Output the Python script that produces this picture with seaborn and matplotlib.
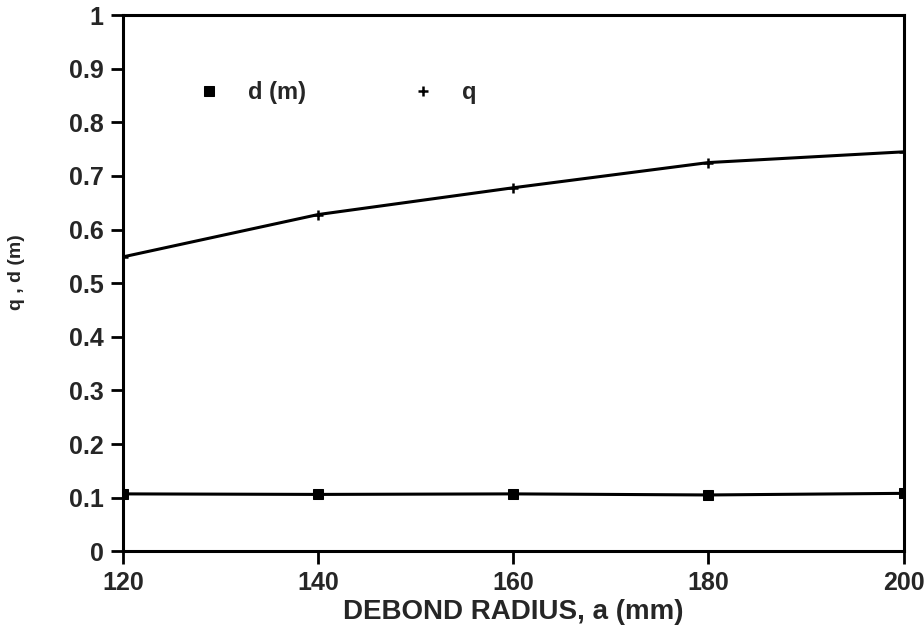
import matplotlib
matplotlib.use("Agg")
import matplotlib.pyplot as plt
import seaborn as sns
import pandas as pd

radius = [120, 140, 160, 180, 200]
q_vals = [0.549, 0.628, 0.678, 0.725, 0.745]
d_vals = [0.107, 0.106, 0.107, 0.105, 0.108]
x_ticks = [120, 140, 160, 180, 200]
y_ticks = [0, 0.1, 0.2, 0.3, 0.4, 0.5, 0.6, 0.7, 0.8, 0.9, 1]
y_labels = ["0", "0.1", "0.2", "0.3", "0.4", "0.5", "0.6", "0.7", "0.8", "0.9", "1"]

sns.set_style("white")
plt.rcParams['font.family'] = ['Liberation Sans', 'DejaVu Sans']
plt.rcParams['font.weight'] = 'bold'

fig = plt.figure(figsize=(9.24, 6.3), dpi=100)
ax = fig.add_axes([0.133, 0.125, 0.845, 0.851])

df = pd.DataFrame({"radius": radius, "q": q_vals, "d": d_vals})
sns.lineplot(data=df, x="radius", y="d", ax=ax, color="black", linewidth=2.2,
             marker="s", markersize=7, markeredgecolor="black", label="d (m)")
sns.lineplot(data=df, x="radius", y="q", ax=ax, color="black", linewidth=2.2,
             marker="+", markersize=7, markeredgewidth=1.8, markeredgecolor="black", label="q")

ax.set_xlim(120, 200)
ax.set_ylim(0, 1)
ax.set_xticks(x_ticks)
ax.set_xticklabels([str(t) for t in x_ticks], fontsize=18, fontweight='bold')
ax.set_yticks(y_ticks)
ax.set_yticklabels(y_labels, fontsize=18, fontweight='bold')
ax.tick_params(axis='both', direction='out', length=9, width=2, color='black',
               left=True, bottom=True, pad=5)
for s in ax.spines.values():
    s.set_linewidth(2.2)
    s.set_color('black')

ax.set_xlabel("DEBOND RADIUS, a (mm)", fontsize=20, fontweight='bold', labelpad=3)
ax.set_ylabel("q , d (m)", fontsize=14, fontweight='bold')
ax.yaxis.set_label_coords(-0.125, 0.52)

leg = ax.legend(loc="center left", bbox_to_anchor=(0.0948, 0.855), ncol=2, frameon=False,
                fontsize=17, handlelength=1.0, handletextpad=1.15, columnspacing=4.45,
                borderpad=0, borderaxespad=0)
for h in leg.legend_handles:
    h.set_linestyle('none')

fig.savefig("out.png", dpi=100)
